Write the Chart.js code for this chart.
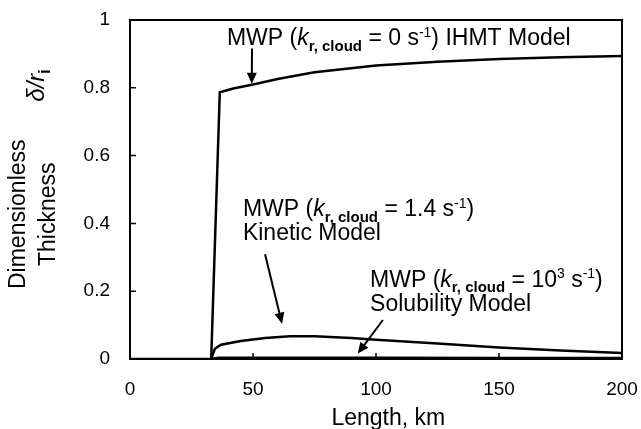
<!DOCTYPE html>
<html>
<head>
<meta charset="utf-8">
<script src="https://cdn.jsdelivr.net/npm/chart.js@4.4.1/dist/chart.umd.min.js"></script>
<style>
  html, body { margin: 0; padding: 0; background: #fff; }
  #wrap { width: 641px; height: 429px; }
</style>
</head>
<body>
<div id="wrap"><canvas id="thicknessChart"></canvas></div>
<script>
// Values
const xTicks = [0, 50, 100, 150, 200];
const yTicks = [0, 0.2, 0.4, 0.6, 0.8, 1];

// MWP (k = 0) IHMT model
const ihmtLength = [0, 33, 36.5, 42, 50, 60, 75, 100, 125, 150, 175, 200];
const ihmtThickness = [0, 0, 0.787, 0.798, 0.81, 0.826, 0.846, 0.866, 0.877, 0.885, 0.89, 0.894];

// MWP (k = 1.4) kinetic model
const kineticLength = [33, 34.5, 37, 45, 55, 65, 75, 90, 100, 125, 150, 175, 200];
const kineticThickness = [0, 0.03, 0.042, 0.053, 0.062, 0.067, 0.067, 0.062, 0.057, 0.046, 0.034, 0.025, 0.018];

// MWP (k = 10^3) solubility model
const solubilityLength = [33, 36, 60, 100, 150, 200];
const solubilityThickness = [0, 0.004, 0.004, 0.004, 0.003, 0.003];

const FONT = '"Liberation Sans", Arial, sans-serif';

function toPoints(xs, ys) {
  return xs.map((v, i) => ({ x: v, y: ys[i] }));
}

// label text pieces: n = normal, i = italic, sub = subscript, sup = superscript
const notes = [
  {
    at: [39.4, 0.925],
    lines: [
      [["MWP (", "n"], ["k", "i"], ["r, cloud", "sub"], [" = 0 s", "n"], ["-1", "sup"], [") IHMT Model", "n"]],
    ],
    arrow: [[49.6, 0.916], [49.5, 0.812]],
  },
  {
    at: [45.9, 0.421],
    lines: [
      [["MWP (", "n"], ["k", "i"], ["r, cloud", "sub"], [" = 1.4 s", "n"], ["-1", "sup"], [")", "n"]],
      [["Kinetic Model", "n"]],
    ],
    arrow: [[54.9, 0.309], [61.8, 0.104]],
  },
  {
    at: [97.6, 0.213],
    lines: [
      [["MWP (", "n"], ["k", "i"], ["r, cloud", "sub"], [" = 10", "n"], ["3", "sup"], [" s", "n"], ["-1", "sup"], [")", "n"]],
      [["Solubility Model", "n"]],
    ],
    arrow: [[102.8, 0.115], [92.6, 0.016]],
  },
];

function setFont(ctx, kind, base) {
  let size = base, style = "", dy = 0;
  if (kind === "i") style = "italic ";
  if (kind === "sub") { size = Math.round(base * 0.65); style = "bold "; dy = base * 0.24; }
  if (kind === "sup") { size = Math.round(base * 0.6); dy = -base * 0.38; }
  ctx.font = style + size + "px " + FONT;
  return dy;
}

function richWidth(ctx, parts, base) {
  let w = 0;
  parts.forEach(([t, k]) => { setFont(ctx, k, base); w += ctx.measureText(t).width; });
  return w;
}

function drawRich(ctx, x, y, parts, base) {
  let cx = x;
  parts.forEach(([t, k]) => {
    const dy = setFont(ctx, k, base);
    ctx.fillText(t, cx, y + dy);
    cx += ctx.measureText(t).width;
  });
}

function drawArrow(ctx, x1, y1, x2, y2) {
  const ang = Math.atan2(y2 - y1, x2 - x1);
  const len = 11, half = 5;
  ctx.beginPath();
  ctx.moveTo(x1, y1);
  ctx.lineTo(x2 - Math.cos(ang) * len * 0.8, y2 - Math.sin(ang) * len * 0.8);
  ctx.stroke();
  ctx.beginPath();
  ctx.moveTo(x2, y2);
  ctx.lineTo(x2 - Math.cos(ang) * len + Math.sin(ang) * half, y2 - Math.sin(ang) * len - Math.cos(ang) * half);
  ctx.lineTo(x2 - Math.cos(ang) * len - Math.sin(ang) * half, y2 - Math.sin(ang) * len + Math.cos(ang) * half);
  ctx.closePath();
  ctx.fill();
}

// frame, inward ticks, axis titles and labels
const frameAndNotes = {
  id: "frameAndNotes",
  afterDatasetsDraw(chart) {
    const { ctx, chartArea: a, scales: { x, y } } = chart;
    ctx.save();
    ctx.strokeStyle = "#000";
    ctx.fillStyle = "#000";
    ctx.lineWidth = 2;
    ctx.strokeRect(a.left, a.top, a.right - a.left, a.bottom - a.top);

    ctx.lineWidth = 1.5;
    ctx.beginPath();
    xTicks.slice(1, -1).forEach((v) => {
      const px = x.getPixelForValue(v);
      ctx.moveTo(px, a.bottom);
      ctx.lineTo(px, a.bottom - 6);
    });
    yTicks.slice(1, -1).forEach((v) => {
      const py = y.getPixelForValue(v);
      ctx.moveTo(a.left, py);
      ctx.lineTo(a.left + 6, py);
    });
    ctx.stroke();

    // annotations
    ctx.textAlign = "left";
    ctx.textBaseline = "alphabetic";
    ctx.lineWidth = 2;
    notes.forEach((n) => {
      const tx = x.getPixelForValue(n.at[0]);
      const ty = y.getPixelForValue(n.at[1]);
      n.lines.forEach((parts, i) => drawRich(ctx, tx, ty + i * 24, parts, 23));
      const [p1, p2] = n.arrow;
      drawArrow(ctx, x.getPixelForValue(p1[0]), y.getPixelForValue(p1[1]),
        x.getPixelForValue(p2[0]), y.getPixelForValue(p2[1]));
    });

    // x title
    ctx.font = "23px " + FONT;
    ctx.textAlign = "center";
    ctx.fillText("Length, km", x.getPixelForValue(105), a.bottom + 66);

    // y title (rotated)
    const mid = y.getPixelForValue(0.427);
    ctx.save();
    ctx.translate(a.left - 105, mid);
    ctx.rotate(-Math.PI / 2);
    ctx.fillText("Dimensionless", 0, 0);
    ctx.restore();
    ctx.save();
    ctx.translate(a.left - 75, mid);
    ctx.rotate(-Math.PI / 2);
    ctx.fillText("Thickness", 0, 0);
    ctx.restore();

    const symbol = [["\u03b4/r", "i"], ["i", "sub"]];
    ctx.save();
    ctx.translate(a.left - 86, y.getPixelForValue(0.807));
    ctx.rotate(-Math.PI / 2);
    ctx.textAlign = "left";
    const w = richWidth(ctx, symbol, 24);
    drawRich(ctx, -w / 2, 0, symbol, 24);
    ctx.restore();

    ctx.restore();
  },
};

const lineStyle = {
  borderColor: "#000",
  borderWidth: 2.5,
  pointRadius: 0,
  tension: 0,
  fill: false,
};

new Chart(document.getElementById("thicknessChart"), {
  type: "line",
  data: {
    datasets: [
      { label: "IHMT Model", data: toPoints(ihmtLength, ihmtThickness), ...lineStyle },
      { label: "Kinetic Model", data: toPoints(kineticLength, kineticThickness), ...lineStyle },
      { label: "Solubility Model", data: toPoints(solubilityLength, solubilityThickness), ...lineStyle },
    ],
  },
  options: {
    responsive: true,
    maintainAspectRatio: false,
    animation: false,
    layout: { padding: { top: 20, right: 19, left: 0, bottom: 0 } },
    plugins: {
      legend: { display: false },
      tooltip: { enabled: false },
    },
    scales: {
      x: {
        type: "linear",
        min: 0,
        max: 200,
        afterBuildTicks: (s) => { s.ticks = xTicks.map((v) => ({ value: v })); },
        // pin the plot area; drop the label overhang padding
        afterFit: (s) => { s.height = 70; s.paddingLeft = 0; s.paddingRight = 0; },
        grid: { display: false, drawTicks: false },
        border: { display: false },
        ticks: { color: "#000", font: { size: 19, family: FONT }, padding: 19, maxRotation: 0, callback: (v) => String(v) },
      },
      y: {
        min: 0,
        max: 1,
        afterBuildTicks: (s) => { s.ticks = yTicks.map((v) => ({ value: v })); },
        afterFit: (s) => { s.width = 130; s.paddingTop = 0; s.paddingBottom = 0; },
        grid: { display: false, drawTicks: false },
        border: { display: false },
        ticks: { color: "#000", font: { size: 19, family: FONT }, padding: 20, callback: (v) => String(v) },
      },
    },
  },
  plugins: [frameAndNotes],
});
</script>
</body>
</html>
